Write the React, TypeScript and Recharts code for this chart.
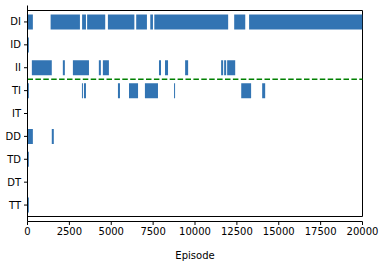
import React from "react";
import { BarChart, Bar, XAxis, YAxis, ReferenceLine, ReferenceArea } from "recharts";

// categories top to bottom
const CATEGORIES = ["DI", "ID", "II", "TI", "IT", "DD", "TD", "DT", "TT"];

// [start, end] episode ranges per category
const DI_SEGMENTS = [[0, 320], [1380, 3130], [3260, 3490], [3560, 4640], [4800, 6380], [6490, 7130], [7330, 7490], [7570, 11980], [12340, 13000], [13230, 20000]];
const ID_SEGMENTS = [[0, 80]];
const II_SEGMENTS = [[260, 1450], [2110, 2230], [2710, 3670], [4260, 4380], [4500, 4860], [7850, 7970], [8210, 8390], [9410, 9590], [11560, 11680], [11740, 11860], [11920, 12400]];
const TI_SEGMENTS = [[0, 80], [3250, 3310], [3370, 3490], [5400, 5520], [6060, 6600], [7010, 7790], [8750, 8810], [12760, 13350], [14010, 14190]];
const IT_SEGMENTS: number[][] = [];
const DD_SEGMENTS = [[0, 320], [1450, 1570]];
const TD_SEGMENTS = [[0, 80]];
const DT_SEGMENTS: number[][] = [];
const TT_SEGMENTS = [[0, 80]];

const X_TICKS = [0, 2500, 5000, 7500, 10000, 12500, 15000, 17500, 20000];
const SPLIT_AFTER = "II";

const SEGMENTS: Record<string, number[][]> = {
  DI: DI_SEGMENTS, ID: ID_SEGMENTS, II: II_SEGMENTS, TI: TI_SEGMENTS, IT: IT_SEGMENTS,
  DD: DD_SEGMENTS, TD: TD_SEGMENTS, DT: DT_SEGMENTS, TT: TT_SEGMENTS,
};

const BLUE = "#3274b3";
const FONT = "'DejaVu Sans', sans-serif";

const maxSeg = Math.max(...CATEGORIES.map((c) => SEGMENTS[c].length));

// stacked rows: transparent gap then blue segment, repeated
const rows = CATEGORIES.map((cat) => {
  const row: Record<string, string | number> = { cat };
  let prev = 0;
  for (let i = 0; i < maxSeg; i++) {
    const seg = SEGMENTS[cat][i];
    if (seg) {
      row[`g${i}`] = seg[0] - prev;
      row[`s${i}`] = seg[1] - seg[0];
      prev = seg[1];
    } else {
      row[`g${i}`] = 0;
      row[`s${i}`] = 0;
    }
  }
  return row;
});

const tickStyle = { fontSize: 10, fill: "#000", fontFamily: FONT };

export default function App() {
  const bars: React.ReactNode[] = [];
  for (let i = 0; i < maxSeg; i++) {
    bars.push(<Bar key={`g${i}`} dataKey={`g${i}`} stackId="a" fill="transparent" barSize={15} isAnimationActive={false} />);
    bars.push(<Bar key={`s${i}`} dataKey={`s${i}`} stackId="a" fill={BLUE} barSize={15} isAnimationActive={false} />);
  }
  return (
    <div style={{ position: "absolute", left: 0, top: 0, width: 382, height: 261, background: "#fff" }}>
      <BarChart
        width={382}
        height={261}
        data={rows}
        layout="vertical"
        margin={{ top: 5.5, right: 19.5, bottom: 0, left: 0 }}
      >
        <XAxis
          type="number"
          domain={[0, 20000]}
          ticks={X_TICKS}
          allowDataOverflow
          tick={tickStyle}
          tickSize={3.5}
          tickMargin={3}
          axisLine={{ stroke: "#000" }}
          tickLine={{ stroke: "#000" }}
          height={39.5}
          label={{ value: "Episode", position: "insideBottom", offset: 2, style: { fontSize: 10, fill: "#000", fontFamily: FONT } }}
        />
        <YAxis
          type="category"
          dataKey="cat"
          width={27.5}
          padding={{ top: 5, bottom: 5 }}
          tick={tickStyle}
          tickSize={3.5}
          tickMargin={3}
          axisLine={{ stroke: "#000" }}
          tickLine={{ stroke: "#000" }}
          interval={0}
        />
        {bars}
        <ReferenceLine y={SPLIT_AFTER} position="end" stroke="green" strokeWidth={1.5} strokeDasharray="5.5 2.4" />
        {/* axes frame */}
        <ReferenceArea x1={0} x2={20000} fill="none" fillOpacity={0} stroke="#000" strokeWidth={1} />
      </BarChart>
    </div>
  );
}
